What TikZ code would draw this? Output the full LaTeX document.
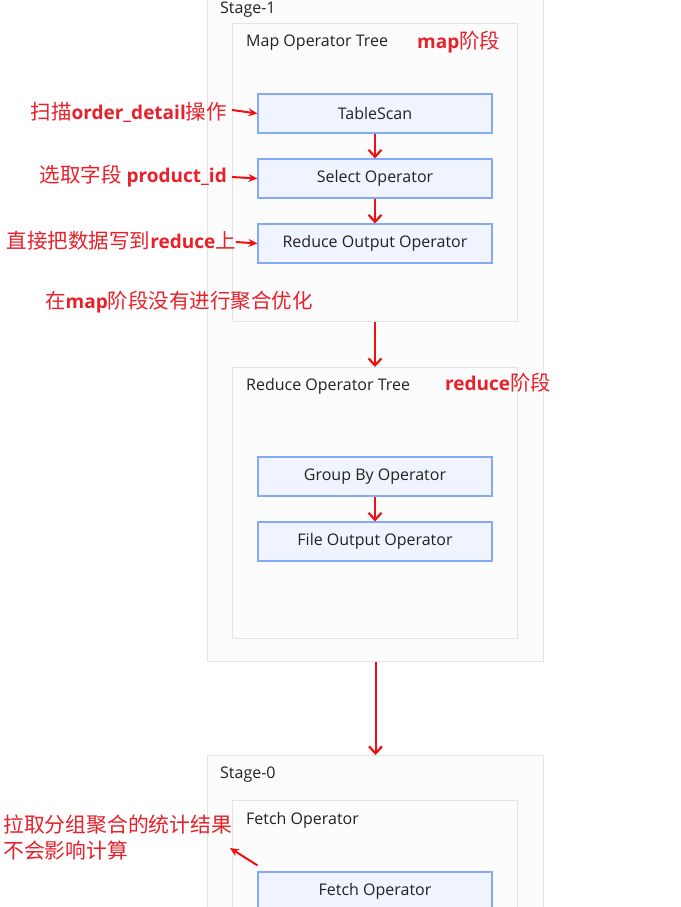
\documentclass[tikz,border=0pt]{standalone}
\usepackage{fontspec}
\setmainfont{Open Sans}
\newfontfamily\cjk{Noto Sans CJK SC}
\newfontfamily\latb{Open Sans}
\usetikzlibrary{arrows.meta}
\definecolor{annred}{HTML}{E8202A}
\definecolor{arrred}{HTML}{F01010}
\definecolor{opfill}{HTML}{EFF4FE}
\definecolor{opline}{HTML}{82AAF5}
\definecolor{boxfill}{HTML}{FCFCFC}
\definecolor{boxline}{HTML}{E4E4E4}
\definecolor{txt}{HTML}{222222}
\newcommand\hlb[1]{{\latb\bfseries\fontsize{19}{24}\selectfont #1}}
\tikzset{
  outerbox/.style={draw=boxline, fill=boxfill, line width=1pt, anchor=north west, inner sep=0pt},
  opbox/.style={draw=opline, fill=opfill, line width=1.2pt, minimum width=234, minimum height=39, inner sep=0pt, font=\fontsize{16}{19}\selectfont, text=txt},
  title/.style={anchor=west, inner sep=0pt, font=\fontsize{16}{19}\selectfont, text=txt},
  ann/.style={inner sep=0pt, text=annred, font=\cjk\fontsize{20.5}{26}\selectfont},
  varrow/.style={draw=arrred, line width=2pt, -{Straight Barb[length=7pt,width=13pt,line width=2.2pt]}},
  harrow/.style={draw=arrred, line width=2pt, -{Stealth[length=9pt,width=8pt]}}
}
\begin{document}
\begin{tikzpicture}[x=1pt,y=-1pt]
\useasboundingbox[fill=white] (0,0) rectangle (680,907);
% Stage-1
\node[outerbox, minimum width=336, minimum height=681] (stage1) at (207,-20) {};
\node[title] (s1t) at (220,10) {Stage-1};
\node[outerbox, minimum width=285, minimum height=298] (maptree) at (232,23) {};
\node[title] (mtt) at (246,43) {Map Operator Tree};
\node[ann, anchor=west] (mapann) at (417,42) {\hlb{map}阶段};
\node[opbox] (ts) at (375,113.5) {TableScan};
\node[opbox] (sel) at (375,178.5) {Select Operator};
\node[opbox] (rout) at (375,243.5) {Reduce Output Operator};
\draw[varrow] (ts.south) -- (sel.north);
\draw[varrow] (sel.south) -- (rout.north);
\node[ann, anchor=east] (a1) at (227,112) {扫描\hlb{order\_detail}操作};
\node[ann, anchor=east] (a2) at (227,176) {选取字段\hspace{5pt}\hlb{product\_id}};
\node[ann, anchor=east] (a3) at (236,241) {直接把数据写到\hlb{reduce}上};
\draw[harrow] (a1.east) ++(5,-2) -- (ts.west);
\draw[harrow] (a2.east) ++(5,1) -- (sel.west);
\draw[harrow] (a3.east) ++(0,1) -- (rout.west);
\node[ann, anchor=west] (a4) at (45,302) {在\hlb{map}阶段没有进行聚合优化};
% reduce tree
\node[outerbox, minimum width=285, minimum height=271] (redtree) at (232,367) {};
\node[title] (rtt) at (246,386) {Reduce Operator Tree};
\node[ann, anchor=west] (redann) at (445,383) {\hlb{reduce}阶段};
\node[opbox] (gb) at (375,476.5) {Group By Operator};
\node[opbox] (fo) at (375,541.5) {File Output Operator};
\draw[varrow] (gb.south) -- (fo.north);
\draw[varrow] (maptree.south) -- (redtree.north);
% Stage-0
\node[outerbox, minimum width=336, minimum height=200] (stage0) at (207,755) {};
\node[title] (s0t) at (220,775) {Stage-0};
\draw[varrow] (stage1.south) -- (stage0.north);
\node[outerbox, minimum width=285, minimum height=150] (fetchtree) at (232,800) {};
\node[title] (ftt) at (246,820) {Fetch Operator};
\node[opbox] (fetch) at (375,891.5) {Fetch Operator};
\node[ann, anchor=north west, align=left, font=\cjk\fontsize{20.8}{26}\selectfont] (a5) at (3,815) {拉取分组聚合的统计结果\\不会影响计算};
\coordinate (c5) at (230,848);
\draw[harrow] ([yshift=6]fetch.north west) -- (c5);
\end{tikzpicture}
\end{document}
